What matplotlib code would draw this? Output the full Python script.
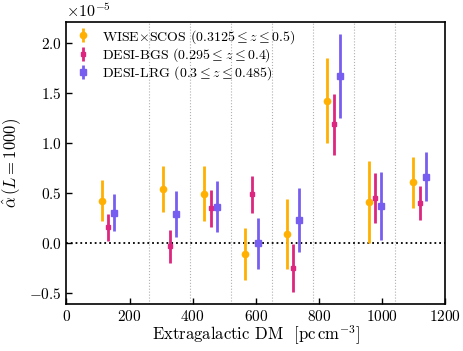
import numpy as np
import matplotlib.pyplot as plt

plt.rcParams['font.family'] = 'serif'
plt.rcParams['font.serif'] = ['cmr10']
plt.rcParams['mathtext.fontset'] = 'cm'
plt.rcParams['axes.formatter.use_mathtext'] = True
plt.rcParams['font.size'] = 11

# bin edges (DM)
edges = [263, 393, 523, 653, 783, 913, 1043]

# WISE x SCOS
x_wise = [113, 307, 437, 567, 698, 826, 958, 1100]
y_wise = [0.426, 0.546, 0.496, -0.104, 0.093, 1.426, 0.416, 0.61]
lo_wise = [0.226, 0.316, 0.22, -0.364, -0.254, 1.0, 0.0, 0.356]
hi_wise = [0.63, 0.773, 0.77, 0.156, 0.44, 1.85, 0.823, 0.863]

# DESI-BGS
x_bgs = [132, 327, 457, 587, 717, 847, 978, 1120]
y_bgs = [0.163, -0.03, 0.35, 0.496, -0.247, 1.19, 0.456, 0.406]
lo_bgs = [0.023, -0.2, 0.163, 0.306, -0.484, 0.883, 0.206, 0.233]
hi_bgs = [0.293, 0.13, 0.53, 0.673, -0.007, 1.493, 0.7, 0.576]

# DESI-LRG
x_lrg = [152, 347, 477, 606, 737, 866, 998, 1140]
y_lrg = [0.306, 0.293, 0.366, 0.0, 0.236, 1.676, 0.37, 0.663]
lo_lrg = [0.123, 0.066, 0.113, -0.254, -0.09, 1.256, 0.03, 0.426]
hi_lrg = [0.49, 0.52, 0.62, 0.25, 0.553, 2.093, 0.713, 0.91]

fig = plt.figure(figsize=(4.63, 3.51), dpi=100)
ax = fig.add_axes([0.1436, 0.1325, 0.8174, 0.8062])

for e in edges:
    ax.axvline(e, color='#b0b0b0', linestyle=':', linewidth=0.8, zorder=0)
ax.axhline(0, color='black', linestyle=':', linewidth=1.3, zorder=1)


def draw(x, y, lo, hi, color, marker, ms, label):
    y = np.array(y) * 1e-5
    lo = np.array(lo) * 1e-5
    hi = np.array(hi) * 1e-5
    ax.errorbar(x, y, yerr=[y - lo, hi - y], fmt=marker, color=color, ms=ms,
                elinewidth=2, capsize=0, label=label, zorder=3)


draw(x_wise, y_wise, lo_wise, hi_wise, '#FFB000', 'o', 4.5,
     r'WISE$\times$SCOS ($0.3125 \leq z \leq 0.5$)')
draw(x_bgs, y_bgs, lo_bgs, hi_bgs, '#DC267F', 's', 2.5,
     r'DESI-BGS ($0.295 \leq z \leq 0.4$)')
draw(x_lrg, y_lrg, lo_lrg, hi_lrg, '#785EF0', 's', 4.5,
     r'DESI-LRG ($0.3 \leq z \leq 0.485$)')

ax.set_xlim(0, 1200)
ax.set_ylim(-0.612e-5, 2.218e-5)
ax.set_xticks([0, 200, 400, 600, 800, 1000, 1200])
ax.set_yticks(np.arange(-0.5, 2.01, 0.5) * 1e-5)
ax.ticklabel_format(axis='y', style='sci', scilimits=(0, 0), useMathText=True)
ax.tick_params(direction='in', labelsize=11, width=1, length=4)
ax.yaxis.get_offset_text().set_fontsize(11.5)
for s in ax.spines.values():
    s.set_linewidth(1.2)

ax.set_xlabel(r'Extragalactic DM  [$\mathrm{pc\,cm^{-3}}$]', fontsize=12, labelpad=-0.5)
ax.set_ylabel(r'$\hat{\alpha}\,(L=1000)$', fontsize=12)

ax.legend(loc='upper left', frameon=False, fontsize=10, handletextpad=0.6,
          borderaxespad=0.05, labelspacing=0.05, handlelength=1.5)

fig.savefig('out.png', dpi=100)
